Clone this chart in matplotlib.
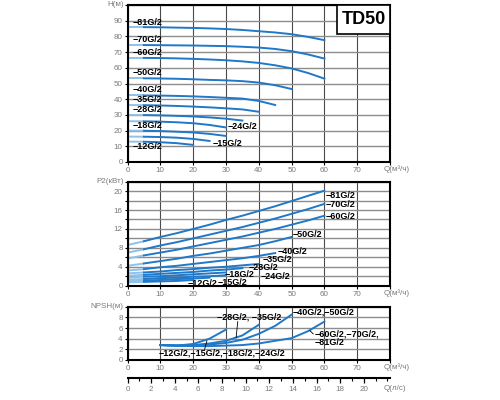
import matplotlib.pyplot as plt
from matplotlib.patches import Rectangle
from matplotlib.ticker import MultipleLocator
import numpy as np

plt.rcParams['font.family'] = ['Liberation Sans', 'DejaVu Sans']

# pump models and the last flow point of each curve (m3/h), points every 5 m3/h
models = ['81G/2', '70G/2', '60G/2', '50G/2', '40G/2', '35G/2',
          '28G/2', '24G/2', '18G/2', '15G/2', '12G/2']
q_end = [60, 60, 60, 50, 45, 40, 35, 30, 30, 25, 20]

# head H (m)
head = [
    [85.9, 85.9, 85.8, 85.6, 85.4, 85.1, 84.7, 84.1, 83.3, 82.5, 81.4, 79.7, 77.6],
    [74.5, 74.5, 74.4, 74.3, 74.2, 74.0, 73.8, 73.4, 72.9, 72.0, 70.6, 68.5, 65.9],
    [66.3, 66.3, 66.2, 66.0, 65.7, 65.3, 64.8, 64.1, 63.1, 61.6, 59.6, 56.7, 53.1],
    [53.3, 53.3, 53.2, 53.0, 52.7, 52.3, 52.0, 51.5, 50.6, 48.9, 46.5],
    [42.4, 42.4, 42.3, 42.1, 41.8, 41.4, 40.9, 40.4, 38.9, 36.3],
    [36.3, 36.2, 36.0, 35.7, 35.3, 34.8, 34.2, 33.5, 32.0],
    [30.0, 29.9, 29.7, 29.4, 29.0, 28.4, 27.6, 26.4],
    [26.0, 25.9, 25.7, 25.3, 24.7, 23.6, 22.0],
    [20.0, 19.9, 19.7, 19.3, 18.8, 17.9, 16.6],
    [16.2, 16.1, 15.9, 15.5, 14.7, 13.4],
    [13.0, 12.9, 12.6, 12.0, 10.9],
]

# shaft power P2 (kW)
power = [
    [8.6, 9.4, 10.3, 11.1, 12.0, 12.9, 13.9, 14.8, 15.8, 16.8, 17.9, 19.0, 20.1],
    [7.0, 7.7, 8.5, 9.2, 10.0, 10.8, 11.6, 12.4, 13.3, 14.2, 15.2, 16.2, 17.3],
    [5.75, 6.4, 7.0, 7.6, 8.3, 9.0, 9.7, 10.4, 11.2, 12.0, 12.9, 13.8, 14.8],
    [4.2, 4.7, 5.2, 5.7, 6.3, 6.8, 7.4, 8.0, 8.6, 9.4, 10.3],
    [3.2, 3.5, 3.9, 4.2, 4.6, 5.0, 5.4, 5.8, 6.3, 6.9],
    [2.6, 2.8, 3.0, 3.3, 3.5, 3.8, 4.0, 4.3, 4.6],
    [2.1, 2.3, 2.5, 2.7, 2.9, 3.2, 3.4, 3.7],
    [1.7, 1.9, 2.0, 2.2, 2.4, 2.6, 2.8],
    [1.3, 1.4, 1.6, 1.7, 1.9, 2.0, 2.2],
    [1.0, 1.1, 1.2, 1.4, 1.5, 1.7],
    [0.7, 0.8, 0.9, 1.0, 1.2],
]

# NPSH (m), one curve per model group, from Q = 10 m3/h
npsh_q = [
    [10, 15, 20, 25, 30],
    [10, 15, 20, 25, 30, 35, 40],
    [10, 15, 20, 25, 30, 35, 40, 45, 50],
    [10, 15, 20, 25, 30, 35, 40, 45, 50, 55, 60],
]
npsh = [
    [2.8, 2.7, 3.0, 4.0, 5.7],
    [2.8, 2.7, 2.8, 3.1, 3.6, 4.6, 6.6],
    [2.8, 2.7, 2.7, 2.9, 3.2, 3.8, 4.9, 6.4, 8.5],
    [2.8, 2.7, 2.6, 2.6, 2.7, 2.8, 3.1, 3.6, 4.1, 5.4, 7.2],
]
npsh_labels = ['−12G/2,−15G/2,−18G/2,−24G/2', '−28G/2, −35G/2',
               '−40G/2,−50G/2', '−60G/2,−70G/2,\n−81G/2']

BLUE = '#1f78c8'
LIGHT = '#8cc2ec'
GRAY = '#7a7a7a'

fig = plt.figure(figsize=(5, 4), dpi=100, facecolor='white')
ax1 = fig.add_axes([0.255, 0.595, 0.525, 0.3925])
ax2 = fig.add_axes([0.255, 0.2858, 0.525, 0.26])
ax3 = fig.add_axes([0.255, 0.10, 0.525, 0.1333])


def style(ax, ymax, step, labelled, ylab):
    ax.set_xlim(0, 80)
    ax.set_ylim(0, ymax)
    ax.set_xticks(range(0, 81, 10))
    ax.set_xticklabels([str(v) for v in range(0, 71, 10)] + [''])
    yt = np.arange(0, ymax + 0.01, step)
    ax.set_yticks(yt)
    ax.set_yticklabels([('%g' % v) if v in labelled else '' for v in yt])
    ax.xaxis.grid(True, color='#4a4a4a', lw=0.8)
    ax.yaxis.grid(True, color='#8c8c8c', lw=1.0)
    ax.set_axisbelow(True)
    for s in ax.spines.values():
        s.set_linewidth(1.5)
    ax.tick_params(labelsize=5.8, labelcolor=GRAY, length=2.5, width=0.8, pad=1)
    ax.text(-0.015, 1.0, ylab, transform=ax.transAxes, ha='right', va='center',
            fontsize=5.8, color=GRAY)
    ax.annotate('Q(м³/ч)', xy=(1, 0), xycoords='axes fraction', xytext=(-6, -7),
                textcoords='offset pixels', ha='left', va='center',
                fontsize=5.8, color=GRAY)


def curve(ax, q, v):
    ax.plot(q[:2], v[:2], color=LIGHT, lw=1.4, solid_capstyle='butt')
    ax.plot(q[1:], v[1:], color=BLUE, lw=1.4)


style(ax1, 100, 10, range(0, 91, 10), 'H(м)')
style(ax2, 22, 2, range(0, 21, 4), 'P2(кВт)')
style(ax3, 10, 2, range(0, 9, 2), 'NPSH(м)')

for qe, h, p in zip(q_end, head, power):
    q = np.arange(0, qe + 1, 5)
    curve(ax1, q, h)
    curve(ax2, q, p)

for q, v in zip(npsh_q, npsh):
    ax3.plot(q, v, color=BLUE, lw=1.4)

lab = dict(fontsize=6.5, fontweight='bold', color='black', va='center', ha='left')

# labels on the head chart
h_pos = [(1.6, 89.1), (1.6, 78.0), (1.6, 69.5), (1.6, 56.7), (1.6, 46.0),
         (1.6, 39.7), (1.6, 33.3), (30.6, 22.4), (1.6, 23.0), (25.8, 11.8), (1.6, 9.8)]
for m, (x, y) in zip(models, h_pos):
    ax1.text(x, y, '−' + m, **lab)

# labels on the power chart
p_pos = [(60.5, 19.1), (60.5, 17.1), (60.5, 14.7), (50.3, 10.8), (45.7, 7.3),
         (41.2, 5.5), (37.0, 3.9), (40.6, 1.9), (29.6, 2.3), (27.6, 0.7), (18.3, 0.4)]
for m, (x, y) in zip(models, p_pos):
    ax2.text(x, y, '−' + m, **lab)

# labels and leaders on the NPSH chart
n_pos = [(9.6, 1.4), (27.4, 8.1), (50.3, 9.0), (56.9, 4.0)]
for t, (x, y) in zip(npsh_labels, n_pos):
    ax3.text(x, y, t, linespacing=0.95, **lab)
ax3.plot([23.5, 24.2], [2.0, 3.6], color='black', lw=0.6)
ax3.plot([33.1, 33.6], [4.2, 7.2], color='black', lw=0.6)
ax3.plot([55.6, 56.6], [5.5, 4.9], color='black', lw=0.6)

# model box
ax1.add_patch(Rectangle((0.798, 0.815), 0.202, 0.185, transform=ax1.transAxes,
                        facecolor='white', edgecolor='black', lw=1.2, zorder=5))
ax1.text(0.899, 0.907, 'TD50', transform=ax1.transAxes, ha='center', va='center',
         fontsize=13, fontweight='bold', zorder=6)

# flow in l/s under the NPSH chart
sec = ax3.secondary_xaxis(-0.338, functions=(lambda q: q / 3.6, lambda l: l * 3.6))
sec.set_xticks(range(0, 21, 2))
sec.xaxis.set_minor_locator(MultipleLocator(1))
sec.spines['bottom'].set_linewidth(1.5)
sec.tick_params(labelsize=5.8, labelcolor=GRAY, length=3.5, width=0.9, pad=2)
sec.tick_params(which='minor', length=2.5, width=0.8)
fig.text(384 / 500, 1 - 389 / 400, 'Q(л/с)', ha='left', va='center',
         fontsize=5.8, color=GRAY)

fig.savefig('out.png', dpi=100)
